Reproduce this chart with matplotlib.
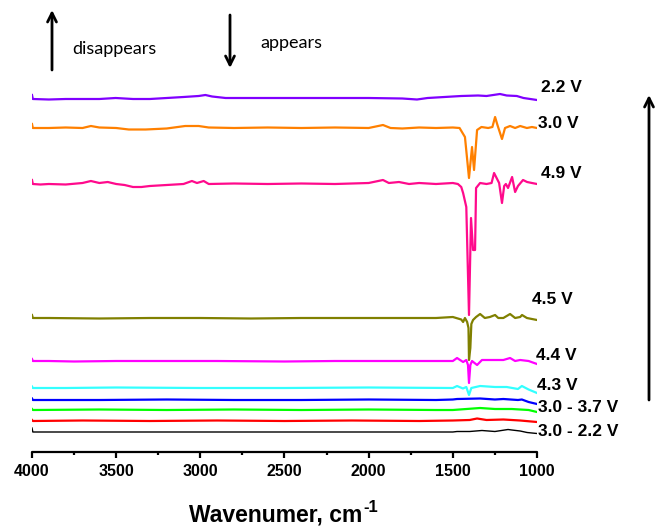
import matplotlib
matplotlib.use("Agg")
import matplotlib.pyplot as plt
import numpy as np

plt.rcParams['font.family'] = ['Liberation Sans', 'DejaVu Sans']

# ---------------- data (wavenumber, relative intensity) ----------------
colors = ["#000000", "#ff0000", "#00ff00", "#0000ff", "#33ffff", "#ff00ff", "#808000", "#ff0a8c", "#ff8000", "#8000ff"]
offsets = [20, 31, 42, 52, 64, 91, 134, 268, 324, 353]

wn_black = [4000, 3995, 3500, 3000, 2500, 2000, 1500, 1475, 1400, 1327, 1250, 1172, 1150, 1100, 1059, 1030, 1000]
iy_black = [4, 0, 0, 0, 0, 0, 0, 0.5, 0.5, 1.5, 0.5, 2.5, 2, 1, -0.5, -1, -1.5]

wn_red = [4000, 3995, 3700, 3300, 2900, 2500, 2100, 1700, 1500, 1400, 1356, 1300, 1200, 1100, 1000]
iy_red = [1, 0, 0.5, 0, 0.5, 0, 0.5, 0, 0.5, 1, 2.5, 1, 1.5, 0.5, -1]

wn_green = [4000, 3995, 3600, 3200, 2800, 2400, 2000, 1600, 1500, 1338, 1250, 1150, 1050, 1000]
iy_green = [1, 0, 0.5, 0, 0.5, 0, 0.5, 0, 0, 2, 1, 1, 0, -2]

wn_blue = [4000, 3995, 3600, 3200, 2800, 2400, 2000, 1600, 1500, 1475, 1338, 1250, 1200, 1113, 1090, 1050, 1000]
iy_blue = [1.5, 0, 0, 0.5, 0, 0, 0.5, 0, 0.5, 1, 1.5, 0.5, 1, 0, 0.5, -2, -4]

wn_cyan = [4000, 3995, 3800, 3500, 3000, 2500, 2000, 1500, 1475, 1440, 1420, 1404, 1390, 1338, 1250, 1180, 1113, 1090, 1050, 1000]
iy_cyan = [1.5, 0, 0, 0.5, 0, 0, 0.5, 0, 2, -0.5, 1, -7, 0, 2, 1, 1, -1, 2, -1.5, -5]

wn_magenta = [4000, 3995, 3900, 3750, 3500, 3200, 2900, 2500, 2200, 1800, 1500, 1475, 1439, 1420, 1410,
              1404, 1396, 1386, 1356, 1327, 1250, 1200, 1160, 1130, 1100, 1050, 1000]
iy_magenta = [2, 0, 0, -0.5, 0, 0, 0, -0.5, 0, 0, 0, 3, -1, 1, -4,
              -22, -4, 0, -4, 1, 1, 1, 3, 0, 1, 0, -3]

wn_olive = [4000, 3995, 3900, 3600, 3300, 3000, 2700, 2400, 2100, 1800, 1600, 1500, 1450, 1439, 1428, 1415,
            1407, 1404, 1396, 1390, 1380, 1362, 1338, 1310, 1280, 1249, 1230, 1200, 1160, 1130, 1100, 1089,
            1060, 1030, 1000]
iy_olive = [3, 0, 0, -0.5, 0, 0, -0.5, 0, 0, 0, 0, 1, -1.5, -4, 0, -4,
            -10, -42, -30, -6, -2, 1, 4, 0, 1, 3, 0, 0, 4, 0, 1, 3,
            0, -1, -2]

wn_pink = [4000, 3995, 3950, 3900, 3800, 3700, 3650, 3600, 3550, 3500, 3450, 3400, 3350, 3300, 3200, 3100,
           3050, 3020, 2980, 2950, 2800, 2600, 2400, 2200, 2000, 1915, 1880, 1820, 1760, 1700, 1600, 1500,
           1470, 1450, 1439, 1420, 1404, 1392, 1380, 1368, 1362, 1338, 1300, 1270, 1255, 1240, 1225, 1208,
           1195, 1185, 1172, 1148, 1130, 1113, 1083, 1059, 1030, 1000]
iy_pink = [4, 0, -0.5, 0, -0.5, 1, 3, 1, 2, 0, -1, -3, -3, -2, -1, 0,
           3, 1, 3, 0, 0.5, 0, 0.5, 0, 1, 4, 1, 2, 0, 1, 0, 1,
           0, -3, -9, -23, -131, -34, -66, -66, -4, 1, 0, 1, 11, 6, 1, -19,
           -2, 0, -4, 7, -8, -2, 4, 2, 1, 0]

wn_orange = [4000, 3995, 3900, 3800, 3700, 3650, 3600, 3500, 3425, 3325, 3200, 3090, 3010, 2950, 2800, 2600,
             2400, 2200, 2000, 1915, 1870, 1800, 1700, 1600, 1500, 1460, 1428, 1404, 1386, 1374, 1356, 1330,
             1290, 1265, 1249, 1235, 1208, 1190, 1160, 1130, 1100, 1060, 1030, 1000]
iy_orange = [4, 0, 0, 0.5, 0, 2, 0.5, 0, -1.5, -1.5, -0.5, 2, 2, 0.5, 0, 0.5,
             0, 0.5, 0, 3, 0, -0.5, 0.5, 0, 0.5, 0, -9, -50, -19, -42, -2, 1,
             0, 1, 11, 3, -11, 0, 2, 0, 2, 0, 1, 0]

wn_purple = [4000, 3995, 3900, 3800, 3600, 3503, 3400, 3300, 3200, 3100, 3010, 2970, 2930, 2850, 2600, 2300, 2000,
             1800, 1713, 1650, 1550, 1450, 1350, 1300, 1260, 1220, 1180, 1120, 1080, 1040, 1000]
iy_purple = [4, 0, -0.5, 0, 0, 1, 0, 0, 1, 2, 3, 4, 2.5, 1, 1, 1, 1,
             0.5, -0.5, 1, 2, 3, 3.5, 3, 4, 5, 3.5, 3, 1, 0, -1]

spectra_wn = [wn_black, wn_red, wn_green, wn_blue, wn_cyan, wn_magenta, wn_olive, wn_pink, wn_orange, wn_purple]
spectra_iy = [iy_black, iy_red, iy_green, iy_blue, iy_cyan, iy_magenta, iy_olive, iy_pink, iy_orange, iy_purple]

label_text = ["3.0 - 2.2 V", "3.0 - 3.7 V", "4.3 V", "4.4 V", "4.5 V", "4.9 V", "3.0 V", "2.2 V"]
label_x = [994, 994, 1000, 1006, 1030, 976, 994, 976]
label_y = [20, 44, 67, 97, 152, 279, 329, 365]

xticks = [4000, 3500, 3000, 2500, 2000, 1500, 1000]
xminor = [3750, 3250, 2750, 2250, 1750, 1250]

# ---------------- figure ----------------
fig = plt.figure(figsize=(6.55, 5.27), dpi=100)
ax = fig.add_axes([32 / 655, 75 / 527, 505 / 655, 432 / 527])

for wn, iy, off, c in zip(spectra_wn, spectra_iy, offsets, colors):
    lw = 1.0 if c == "#000000" else 1.6
    ax.plot(wn, np.asarray(iy) + off, color=c, lw=lw, solid_joinstyle='round')

for t, x, y in zip(label_text, label_x, label_y):
    ax.text(x, y, t, ha='left', va='center', fontsize=12.5, fontweight='bold', clip_on=False)

ax.set_xlim(4000, 1000)
ax.set_ylim(0, 432)
ax.set_xticks(xticks)
ax.set_xticklabels([str(v) for v in xticks])
ax.set_xticks(xminor, minor=True)
ax.set_yticks([])
for s in ['left', 'right', 'top']:
    ax.spines[s].set_visible(False)
ax.spines['bottom'].set_linewidth(1.6)
ax.spines['bottom'].set_capstyle('round')
ax.tick_params(axis='x', which='major', direction='out', length=4.5, width=1.6, labelsize=11.5, pad=4)
ax.tick_params(axis='x', which='minor', direction='out', length=2.5, width=1.6)
for lab in ax.get_xticklabels():
    lab.set_fontweight('bold')

# x label: main text plus raised "-1"
fig.text(276 / 655, 1 - 515 / 527, 'Wavenumer, cm', ha='center', va='center', fontsize=16.5, fontweight='bold')
fig.text(363 / 655, 1 - 507 / 527, '-1', ha='left', va='center', fontsize=12, fontweight='bold')

# arrows and annotations (figure pixel coordinates)
aprops = dict(arrowstyle='->', lw=2, color='black', mutation_scale=16, shrinkA=0, shrinkB=0)
ax.annotate('', xy=(52, 517), xytext=(52, 457), xycoords='figure pixels', textcoords='figure pixels', arrowprops=aprops)
ax.annotate('', xy=(230, 459), xytext=(230, 512), xycoords='figure pixels', textcoords='figure pixels', arrowprops=aprops)
ax.annotate('', xy=(649, 432), xytext=(649, 127), xycoords='figure pixels', textcoords='figure pixels', arrowprops=aprops)
fig.text(72 / 655, 478 / 527, 'disappears', ha='left', va='center', fontsize=13, family=['Lato', 'DejaVu Sans'])
fig.text(260 / 655, 484 / 527, 'appears', ha='left', va='center', fontsize=13, family=['Lato', 'DejaVu Sans'])

fig.savefig('out.png', dpi=100)
